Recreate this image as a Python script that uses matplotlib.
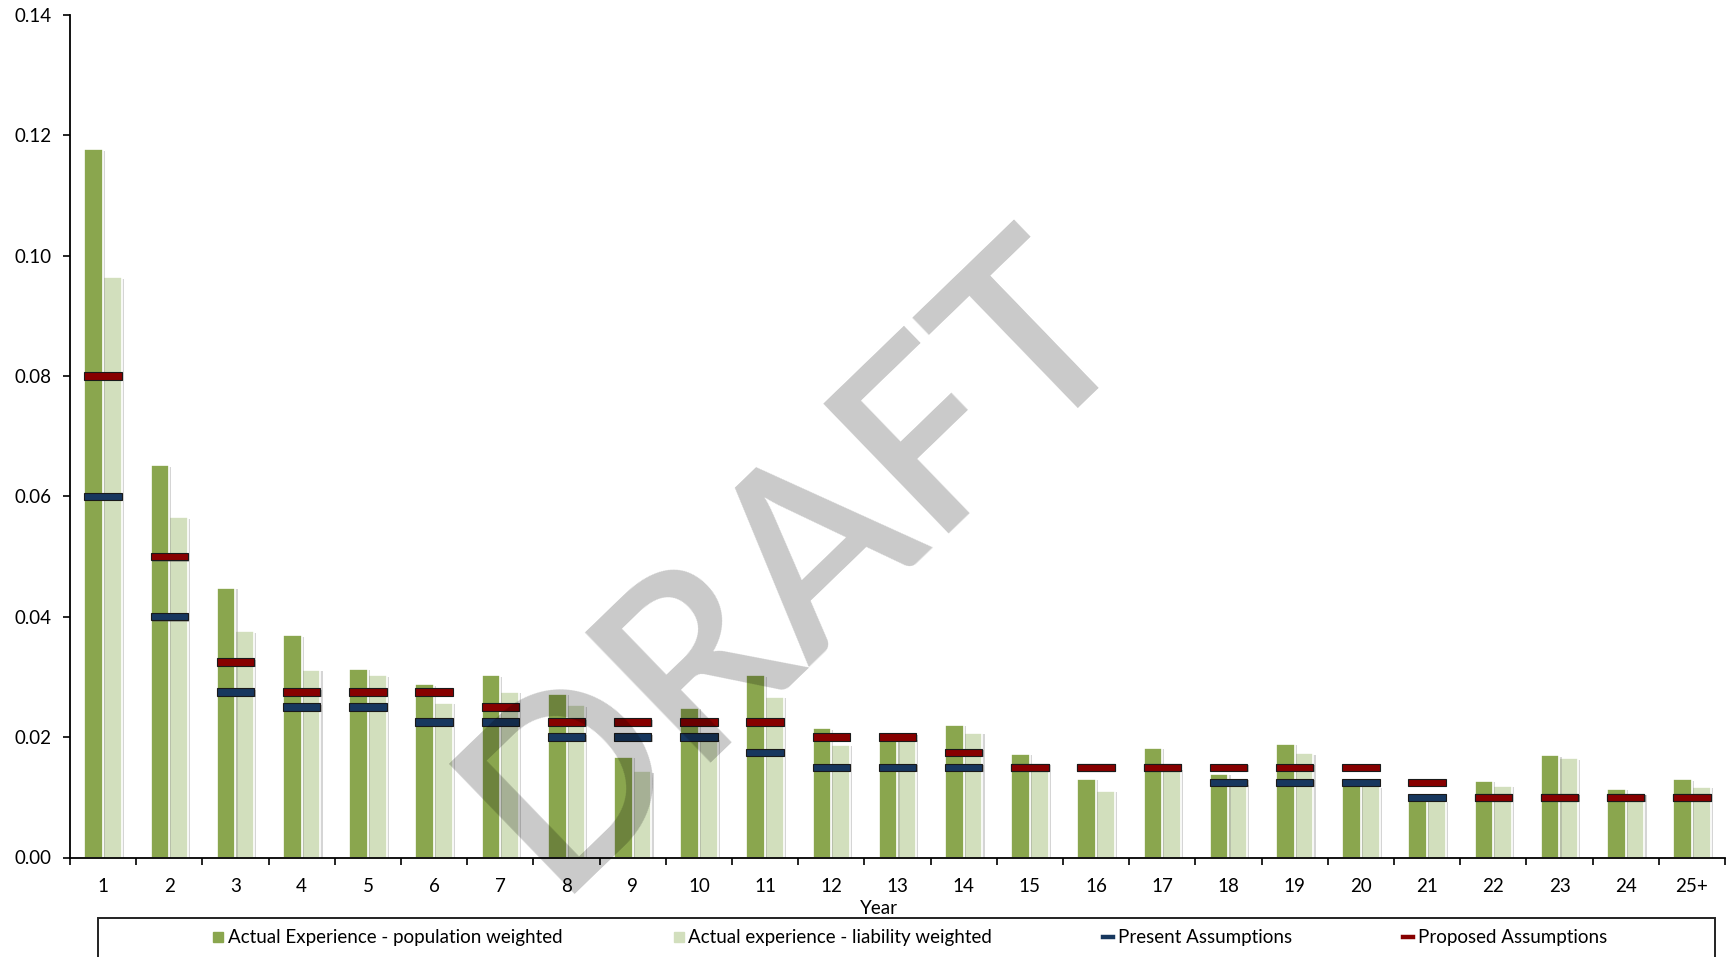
import matplotlib
matplotlib.use("Agg")
import matplotlib.pyplot as plt
import matplotlib.patheffects as pe
from matplotlib.lines import Line2D
from matplotlib.patches import Rectangle
import numpy as np

plt.rcParams['font.family'] = ['Lato', 'DejaVu Sans']

years = ['1', '2', '3', '4', '5', '6', '7', '8', '9', '10', '11', '12', '13',
         '14', '15', '16', '17', '18', '19', '20', '21', '22', '23', '24', '25+']
pop_weighted = [0.1177, 0.0652, 0.0448, 0.0369, 0.0314, 0.0288, 0.0303, 0.0272,
                0.0167, 0.0249, 0.0303, 0.0215, 0.0201, 0.0220, 0.0172, 0.0131,
                0.0182, 0.0139, 0.0189, 0.0122, 0.0097, 0.0127, 0.0170, 0.0114, 0.0130]
liab_weighted = [0.0964, 0.0565, 0.0376, 0.0312, 0.0303, 0.0257, 0.0275, 0.0253,
                 0.0143, 0.0198, 0.0267, 0.0187, 0.0197, 0.0207, 0.0156, 0.0111,
                 0.0148, 0.0122, 0.0173, 0.0118, 0.0094, 0.0119, 0.0165, 0.0106, 0.0117]
present = [0.06, 0.04, 0.0275, 0.025, 0.025, 0.0225, 0.0225, 0.02, 0.02, 0.02,
           0.0175, 0.015, 0.015, 0.015, 0.015, 0.015, 0.015, 0.0125, 0.0125, 0.0125,
           0.01, 0.01, 0.01, 0.01, 0.01]
proposed = [0.08, 0.05, 0.0325, 0.0275, 0.0275, 0.0275, 0.025, 0.0225, 0.0225, 0.0225,
            0.0225, 0.02, 0.02, 0.0175, 0.015, 0.015, 0.015, 0.015, 0.015, 0.015,
            0.0125, 0.01, 0.01, 0.01, 0.01]
yticks = [0.00, 0.02, 0.04, 0.06, 0.08, 0.10, 0.12, 0.14]

GREEN = '#8aa64e'
LIGHT = '#d2dfbd'
NAVY = '#17375e'
RED = '#870000'
FS = 13.5

W, H = 1733, 957
fig = plt.figure(figsize=(W / 100, H / 100), dpi=100)
ax = fig.add_axes([70 / W, 1 - 857.5 / H, 1655 / W, 842.5 / H])

x = np.arange(len(years))
bw = 0.283
shadow = [pe.SimplePatchShadow(offset=(1.5, -1), shadow_rgbFace='#888888', alpha=0.35), pe.Normal()]

b1 = ax.bar(x - bw / 2, pop_weighted, width=bw, color=GREEN, edgecolor='white', linewidth=1.2, zorder=2)
b2 = ax.bar(x + bw / 2, liab_weighted, width=bw, color=LIGHT, edgecolor='white', linewidth=1.2, zorder=1.9)
for p in list(b1) + list(b2):
    p.set_path_effects(shadow)

th = 0.00122
pres = np.array(present)
prop = np.array(proposed)
m1 = ax.bar(x, np.full(len(x), th), bottom=pres - th / 2, width=0.565, color=NAVY,
            edgecolor='#1a1a1a', linewidth=0.8, zorder=3)
m2 = ax.bar(x, np.full(len(x), th), bottom=prop - th / 2, width=0.565, color=RED,
            edgecolor='#1a1a1a', linewidth=0.8, zorder=3.1)
for p in list(m1) + list(m2):
    p.set_path_effects([pe.SimplePatchShadow(offset=(1, -1), shadow_rgbFace='#555555', alpha=0.35), pe.Normal()])

ax.set_xlim(-0.5, len(years) - 0.5)
ax.set_ylim(0, 0.14)
ax.set_yticks(yticks)
ax.set_yticklabels([f"{v:.2f}" for v in yticks], fontsize=FS)
ax.set_xticks(x)
ax.set_xticklabels(years, fontsize=FS)
ax.set_xticks(np.arange(len(years) + 1) - 0.5, minor=True)
ax.tick_params(axis='x', which='major', length=0, pad=15)
ax.tick_params(axis='x', which='minor', length=5, width=1.2, direction='out')
ax.tick_params(axis='y', which='major', length=5, width=1.2, direction='out', pad=8)

for s in ['top', 'right']:
    ax.spines[s].set_visible(False)
for s in ['left', 'bottom']:
    ax.spines[s].set_linewidth(1.3)
    ax.spines[s].set_color('black')

ax.set_xlabel('Year', fontsize=FS)
ax.xaxis.set_label_coords(0.489, -0.051)

# Legend
handles = [
    Line2D([], [], marker='s', linestyle='none', color=GREEN, markersize=7),
    Line2D([], [], marker='s', linestyle='none', color=LIGHT, markersize=7),
    Line2D([], [], color=NAVY, linewidth=3.2),
    Line2D([], [], color=RED, linewidth=3.2),
]
labels = ['Actual Experience - population weighted', 'Actual experience - liability weighted',
          'Present Assumptions', 'Proposed Assumptions']
fig.legend(handles, labels, loc='center', bbox_to_anchor=(910 / W, 1 - 938 / H), ncol=4,
           frameon=False, fontsize=FS, handlelength=0.55, handletextpad=0.25,
           columnspacing=5.9)
fig.patches.append(Rectangle((98 / W, -0.05), (1715 - 98) / W, 0.05 + (957 - 918) / H,
                             transform=fig.transFigure, fill=False, edgecolor='#222222',
                             linewidth=1.4, zorder=5))

# Watermark
fig.text(845 / W, 1 - 612 / H, 'DRAFT', fontsize=180, fontweight='semibold', color='black',
         alpha=0.21, rotation=44, ha='center', va='baseline', rotation_mode='anchor', zorder=10)

fig.savefig('out.png', dpi=100)
